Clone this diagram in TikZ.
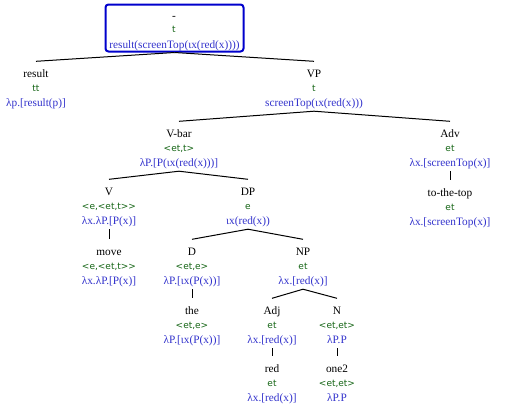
\documentclass[tikz,border=0pt]{standalone}
\usepackage{fontspec}
\setmainfont{Liberation Serif}
\newfontfamily\typefont{DejaVu Sans}
\definecolor{typegreen}{RGB}{20,100,20}
\definecolor{semblue}{RGB}{51,51,204}
\definecolor{boxblue}{RGB}{0,0,204}
\tikzset{
  lab/.style={anchor=base, font=\fontsize{11.3}{13}\selectfont, text=black, text height=9pt, text depth=0pt, inner xsep=1pt, inner ysep=6.5pt},
  typ/.style={anchor=base, font=\typefont\fontsize{9}{11}\selectfont, text=typegreen, inner sep=0pt},
  sem/.style={anchor=base, font=\fontsize{11.3}{13}\selectfont, text=semblue, text depth=0pt, inner xsep=1pt, inner ysep=4.5pt},
  edge/.style={draw=black, line width=1pt},
  rootbox/.style={draw=boxblue, line width=2pt, rounded corners=3pt, minimum width=138pt, minimum height=47pt, inner sep=0pt}
}
\newcommand\treenode[6]{%
  \node[lab] (#1) at (#2,#3+4) {#4};
  \node[typ] (#1-t) at (#2,#3+18.5) {#5};
  \node[sem] (#1-s) at (#2,#3+33.5) {#6};}
\begin{document}
\begin{tikzpicture}[x=1pt,y=-1pt]
\useasboundingbox (0,0) rectangle (516,418);
% root
\node[rootbox] (root) at (174.5,28) {};
\node[lab, inner ysep=0pt] (root-l) at (174,19) {-};
\node[typ] (root-t) at (174,32.5) {t};
\node[sem, inner ysep=0pt] (root-s) at (174.5,48) {result(screenTop(ιx(red(x))))};
% tree nodes
\treenode{res}{36}{73}{result}{tt}{λp.[result(p)]}
\treenode{vp}{314}{73}{VP}{t}{screenTop(ιx(red(x)))}
\treenode{vbar}{179}{133}{V-bar}{<et,t>}{λP.[P(ιx(red(x)))]}
\treenode{adv}{450}{133}{Adv}{et}{λx.[screenTop(x)]}
\treenode{ttt}{450}{192}{to-the-top}{et}{λx.[screenTop(x)]}
\treenode{v}{109}{191}{V}{<e,<et,t>>}{λx.λP.[P(x)]}
\treenode{dp}{248}{191}{DP}{e}{ιx(red(x))}
\treenode{move}{109}{251}{move}{<e,<et,t>>}{λx.λP.[P(x)]}
\treenode{d}{192}{251}{D}{<et,e>}{λP.[ιx(P(x))]}
\treenode{np}{303}{251}{NP}{et}{λx.[red(x)]}
\treenode{the}{192}{310}{the}{<et,e>}{λP.[ιx(P(x))]}
\treenode{adj}{272}{310}{Adj}{et}{λx.[red(x)]}
\treenode{n}{337}{310}{N}{<et,et>}{λP.P}
\treenode{red}{272}{368}{red}{et}{λx.[red(x)]}
\treenode{one}{337}{368}{one2}{<et,et>}{λP.P}
% connectors
\draw[edge] (root.south) -- (res.north);
\draw[edge] (root.south) -- (vp.north);
\draw[edge] (vp-s.south) -- (vbar.north);
\draw[edge] (vp-s.south) -- (adv.north);
\draw[edge] (adv-s.south) -- (ttt.north);
\draw[edge] (vbar-s.south) -- (v.north);
\draw[edge] (vbar-s.south) -- (dp.north);
\draw[edge] (v-s.south) -- (move.north);
\draw[edge] (dp-s.south) -- (d.north);
\draw[edge] (dp-s.south) -- (np.north);
\draw[edge] (d-s.south) -- (the.north);
\draw[edge] (np-s.south) -- (adj.north);
\draw[edge] (np-s.south) -- (n.north);
\draw[edge] (adj-s.south) -- (red.north);
\draw[edge] (n-s.south) -- (one.north);
\end{tikzpicture}
\end{document}
